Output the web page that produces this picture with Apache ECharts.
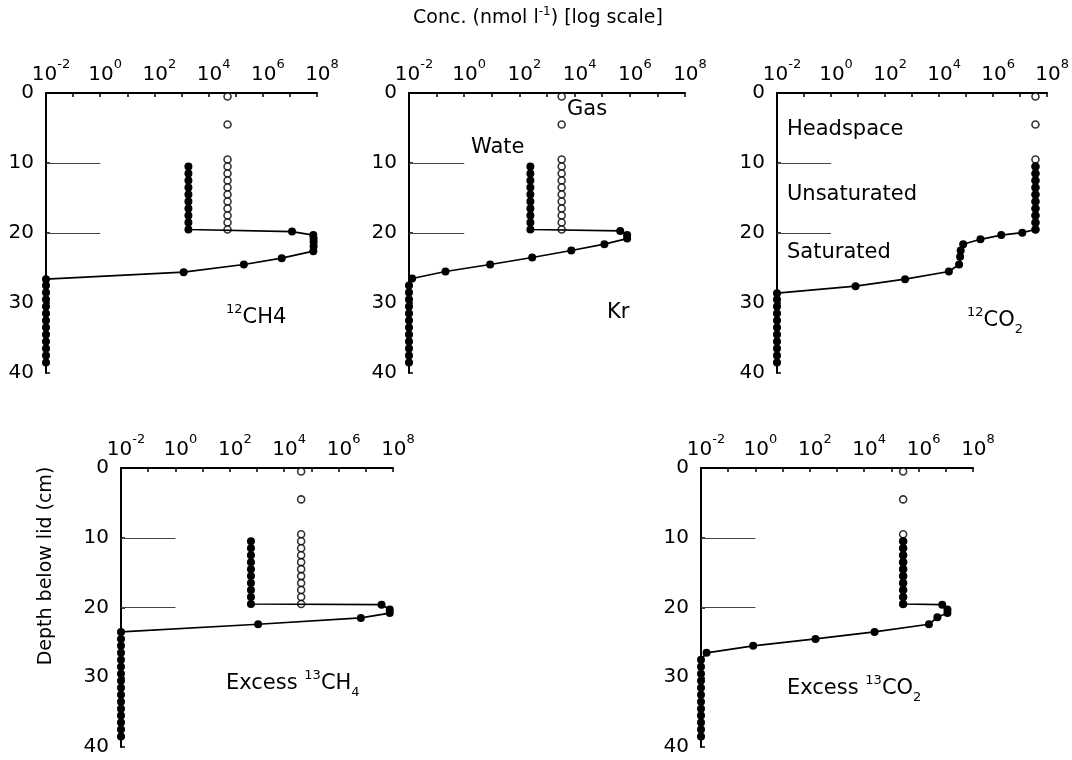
<!DOCTYPE html>
<html>
<head>
<meta charset="utf-8">
<script src="https://cdn.jsdelivr.net/npm/echarts/dist/echarts.min.js"></script>
<style>
  html, body { margin: 0; padding: 0; background: #fff; }
  #chart { width: 1072px; height: 760px; }
</style>
</head>
<body>
<div id="chart"></div>
<script>
// depth (cm) of the headspace gas samples, same for every panel
const gasDepth = [0.5, 4.5, 9.5, 10.5, 11.5, 12.5, 13.5, 14.5, 15.5, 16.5, 17.5, 18.5, 19.5];

// 12CH4
const ch4Gas = [5e4, 5e4, 5e4, 5e4, 5e4, 5e4, 5e4, 5e4, 5e4, 5e4, 5e4, 5e4, 5e4];
const ch4WaterDepth = [10.5, 11.5, 12.5, 13.5, 14.5, 15.5, 16.5, 17.5, 18.5, 19.5, 19.8, 20.3, 20.8, 21.3, 21.9, 22.6, 23.6, 24.5, 25.6, 26.6,
  27.5, 28.5, 29.5, 30.5, 31.5, 32.5, 33.5, 34.5, 35.5, 36.5, 37.5, 38.5];
const ch4Water = [1.8e3, 1.8e3, 1.8e3, 1.8e3, 1.8e3, 1.8e3, 1.8e3, 1.8e3, 1.8e3, 1.8e3, 1.2e7, 7.3e7, 7.5e7, 7.5e7, 7.5e7, 7.3e7, 5e6, 2e5, 1.2e3, 0.01,
  0.01, 0.01, 0.01, 0.01, 0.01, 0.01, 0.01, 0.01, 0.01, 0.01, 0.01, 0.01];

// Kr
const krGas = [3.4e3, 3.4e3, 3.4e3, 3.4e3, 3.4e3, 3.4e3, 3.4e3, 3.4e3, 3.4e3, 3.4e3, 3.4e3, 3.4e3, 3.4e3];
const krWaterDepth = [10.5, 11.5, 12.5, 13.5, 14.5, 15.5, 16.5, 17.5, 18.5, 19.5, 19.7, 20.3, 20.8, 21.6, 22.5, 23.5, 24.5, 25.5, 26.5,
  27.5, 28.5, 29.5, 30.5, 31.5, 32.5, 33.5, 34.5, 35.5, 36.5, 37.5, 38.5];
const krWater = [250, 250, 250, 250, 250, 250, 250, 250, 250, 250, 4.5e5, 8e5, 8e5, 1.2e5, 7.6e3, 290, 8.7, 0.21, 0.013,
  0.01, 0.01, 0.01, 0.01, 0.01, 0.01, 0.01, 0.01, 0.01, 0.01, 0.01, 0.01];

// 12CO2
const co2Gas = [3.7e7, 3.7e7, 3.7e7, 3.7e7, 3.7e7, 3.7e7, 3.7e7, 3.7e7, 3.7e7, 3.7e7, 3.7e7, 3.7e7, 3.7e7];
const co2WaterDepth = [10.5, 11.5, 12.5, 13.5, 14.5, 15.5, 16.5, 17.5, 18.5, 19.5, 19.95, 20.3, 20.9, 21.6, 22.5, 23.4, 24.5, 25.5, 26.6, 27.6, 28.6,
  29.5, 30.5, 31.5, 32.5, 33.5, 34.5, 35.5, 36.5, 37.5, 38.5];
const co2Water = [3.7e7, 3.7e7, 3.7e7, 3.7e7, 3.7e7, 3.7e7, 3.7e7, 3.7e7, 3.7e7, 3.7e7, 1.2e7, 2e6, 3.4e5, 7.8e4, 6.3e4, 6e4, 5.5e4, 2.3e4, 550, 8.1, 0.01,
  0.01, 0.01, 0.01, 0.01, 0.01, 0.01, 0.01, 0.01, 0.01, 0.01];

// excess 13CH4
const xch4Gas = [4.2e4, 4.2e4, 4.2e4, 4.2e4, 4.2e4, 4.2e4, 4.2e4, 4.2e4, 4.2e4, 4.2e4, 4.2e4, 4.2e4, 4.2e4];
const xch4WaterDepth = [10.5, 11.5, 12.5, 13.5, 14.5, 15.5, 16.5, 17.5, 18.5, 19.5, 19.6, 20.3, 20.8, 21.5, 22.4, 23.5,
  24.5, 25.5, 26.5, 27.5, 28.5, 29.5, 30.5, 31.5, 32.5, 33.5, 34.5, 35.5, 36.5, 37.5, 38.5];
const xch4Water = [600, 600, 600, 600, 600, 600, 600, 600, 600, 600, 3.8e7, 7.6e7, 7.6e7, 6.6e6, 1.1e3, 0.01,
  0.01, 0.01, 0.01, 0.01, 0.01, 0.01, 0.01, 0.01, 0.01, 0.01, 0.01, 0.01, 0.01, 0.01, 0.01];

// excess 13CO2
const xco2Gas = [2.7e5, 2.7e5, 2.7e5, 2.7e5, 2.7e5, 2.7e5, 2.7e5, 2.7e5, 2.7e5, 2.7e5, 2.7e5, 2.7e5, 2.7e5];
const xco2WaterDepth = [10.5, 11.5, 12.5, 13.5, 14.5, 15.5, 16.5, 17.5, 18.5, 19.5, 19.6, 20.3, 20.8, 21.4, 22.4, 23.5, 24.5, 25.5, 26.5,
  27.5, 28.5, 29.5, 30.5, 31.5, 32.5, 33.5, 34.5, 35.5, 36.5, 37.5, 38.5];
const xco2Water = [2.7e5, 2.7e5, 2.7e5, 2.7e5, 2.7e5, 2.7e5, 2.7e5, 2.7e5, 2.7e5, 2.7e5, 7.4e6, 1.15e7, 1.15e7, 4.9e6, 2.4e6, 2.4e4, 162, 0.83, 0.016,
  0.01, 0.01, 0.01, 0.01, 0.01, 0.01, 0.01, 0.01, 0.01, 0.01, 0.01, 0.01];

// layer boundaries (cm) : headspace / unsaturated / saturated
const boundaries = [10, 20];
const depthTicks = [0, 10, 20, 30, 40];

const FONT = '"DejaVu Sans", "Liberation Sans", Arial, sans-serif';

const panels = [
  { gas: ch4Gas, water: ch4Water, wDepth: ch4WaterDepth, grid: { left: 46, top: 93, width: 271, height: 280 } },
  { gas: krGas, water: krWater, wDepth: krWaterDepth, grid: { left: 409, top: 93, width: 276, height: 280 } },
  { gas: co2Gas, water: co2Water, wDepth: co2WaterDepth, grid: { left: 777, top: 93, width: 273, height: 280 } },
  { gas: xch4Gas, water: xch4Water, wDepth: xch4WaterDepth, grid: { left: 121, top: 468, width: 272, height: 279 } },
  { gas: xco2Gas, water: xco2Water, wDepth: xco2WaterDepth, grid: { left: 701, top: 468, width: 272, height: 279 } },
];

function zip(xs, ys) {
  return xs.map((x, i) => [x, ys[i]]);
}

const grids = [], xAxes = [], yAxes = [], series = [];

panels.forEach((p, i) => {
  grids.push(Object.assign({ containLabel: false }, p.grid));

  xAxes.push({
    type: 'log',
    logBase: 10,
    gridIndex: i,
    position: 'top',
    min: 0.01,
    max: 1e8,
    interval: 1,
    axisLine: { show: true, onZero: false, lineStyle: { color: '#000', width: 2 } },
    axisTick: { show: true, inside: true, length: 4, lineStyle: { color: '#000', width: 1.5 } },
    splitLine: { show: false },
    axisLabel: {
      margin: 8,
      color: '#000',
      fontFamily: FONT,
      fontSize: 20,
      padding: [0, 0, 0, 10],
      formatter(v) {
        const e = Math.round(Math.log10(v));
        if (e % 2 !== 0) return '';
        return '{b|10}{sup|' + e + '}';
      },
      rich: {
        b: { fontSize: 20, fontFamily: FONT, color: '#000', lineHeight: 27, verticalAlign: 'bottom' },
        sup: { fontSize: 13, fontFamily: FONT, color: '#000', lineHeight: 14, verticalAlign: 'top' },
      },
    },
  });

  yAxes.push({
    type: 'value',
    gridIndex: i,
    inverse: true,
    min: 0,
    max: 40,
    interval: 10,
    axisLine: { show: true, onZero: false, lineStyle: { color: '#000', width: 2 } },
    axisTick: { show: true, inside: true, length: 4, lineStyle: { color: '#000', width: 1.5 } },
    splitLine: { show: false },
    axisLabel: { margin: 12, color: '#000', fontFamily: FONT, fontSize: 20,
      formatter: v => (depthTicks.indexOf(v) >= 0 ? String(v) : '') },
  });

  series.push({
    type: 'scatter',
    xAxisIndex: i,
    yAxisIndex: i,
    data: zip(p.gas, gasDepth),
    symbol: 'circle',
    symbolSize: 7,
    clip: false,
    itemStyle: { color: '#fff', borderColor: '#000', borderWidth: 1.6 },
    z: 2,
  });

  series.push({
    type: 'line',
    xAxisIndex: i,
    yAxisIndex: i,
    data: zip(p.water, p.wDepth),
    symbol: 'circle',
    symbolSize: 8,
    showSymbol: true,
    showAllSymbol: true,
    clip: false,
    itemStyle: { color: '#000' },
    lineStyle: { color: '#000', width: 1.7 },
    z: 3,
    markLine: {
      silent: true,
      symbol: ['none', 'none'],
      label: { show: false },
      lineStyle: { color: '#444', width: 1.2, type: 'solid' },
      data: boundaries.map(d => [{ coord: [0.01, d] }, { coord: [1, d] }]),
    },
  });
});

// rich text helpers for the panel labels
const titleTxt = { fontSize: 19, fontFamily: FONT, fill: '#000', lineHeight: 26, verticalAlign: 'middle' };
const txt = { fontSize: 21, fontFamily: FONT, fill: '#000', lineHeight: 28, verticalAlign: 'middle' };
const titleRich = {
  n: { fontSize: 19, fontFamily: FONT, fill: '#000', lineHeight: 24, verticalAlign: 'middle' },
  sup: { fontSize: 12, fontFamily: FONT, fill: '#000', lineHeight: 12, verticalAlign: 'top' },
};
const richStyles = {
  n: { fontSize: 21, fontFamily: FONT, fill: '#000', lineHeight: 30, verticalAlign: 'middle' },
  sup: { fontSize: 13, fontFamily: FONT, fill: '#000', lineHeight: 13, verticalAlign: 'top' },
  sub: { fontSize: 13, fontFamily: FONT, fill: '#000', lineHeight: 13, verticalAlign: 'bottom' },
};

function label(x, y, text, extra) {
  return Object.assign({
    type: 'text',
    x: x,
    y: y,
    silent: true,
    style: Object.assign({ text: text, rich: richStyles, align: 'left', verticalAlign: 'middle' }, txt),
  }, extra || {});
}

const graphics = [
  label(538, 18, '', { style: Object.assign({ text: '{n|Conc. (nmol l}{sup|-1}{n|) [log scale]}', rich: titleRich, align: 'center', verticalAlign: 'middle' }, titleTxt) }),
  label(46, 566, '', { rotation: Math.PI / 2, style: Object.assign({ text: 'Depth below lid (cm)', align: 'center', verticalAlign: 'middle' }, titleTxt) }),
  label(226, 318, '{sup|12}{n|CH4}'),
  label(567, 110, 'Gas'),
  label(471, 148, 'Wate'),
  label(607, 313, 'Kr'),
  label(787, 130, 'Headspace'),
  label(787, 195, 'Unsaturated'),
  label(787, 253, 'Saturated'),
  label(967, 321, '{sup|12}{n|CO}{sub|2}'),
  label(226, 684, '{n|Excess }{sup|13}{n|CH}{sub|4}'),
  label(787, 689, '{n|Excess }{sup|13}{n|CO}{sub|2}'),
];

const chart = echarts.init(document.getElementById('chart'));
chart.setOption({
  animation: false,
  backgroundColor: '#fff',
  grid: grids,
  xAxis: xAxes,
  yAxis: yAxes,
  series: series,
  graphic: graphics,
});
</script>
</body>
</html>
